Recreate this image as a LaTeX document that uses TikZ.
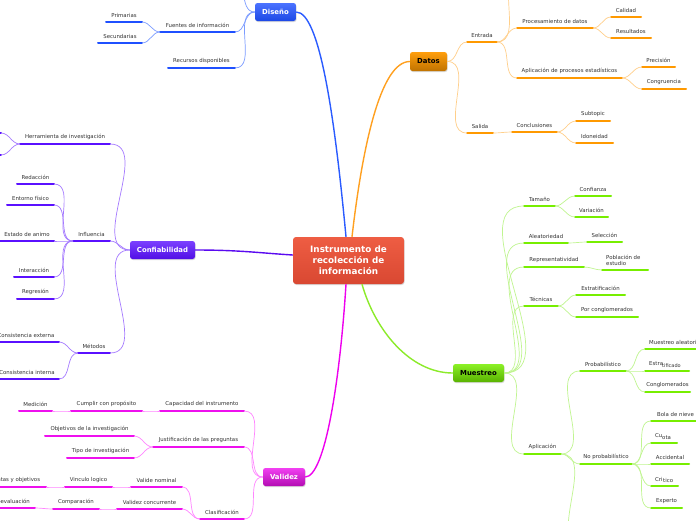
\documentclass[tikz,border=0pt]{standalone}
\usepackage{fontspec}
\setmainfont{DejaVu Sans}
\usetikzlibrary{calc,shadows}
\definecolor{txt}{HTML}{333333}
\definecolor{mainT}{HTML}{EE5D43}\definecolor{mainB}{HTML}{D94832}
\definecolor{dsn}{HTML}{1F50FF}\definecolor{dsnl}{HTML}{7C9CFF}\definecolor{dsnm}{HTML}{2A5BFF}
\definecolor{dat}{HTML}{FF9900}\definecolor{datl}{HTML}{FFCF8A}\definecolor{datm}{HTML}{FFA020}
\definecolor{cnf}{HTML}{5A10FF}\definecolor{cnfl}{HTML}{A57AFF}\definecolor{cnfm}{HTML}{5A0AF0}
\definecolor{val}{HTML}{EE10EE}\definecolor{vall}{HTML}{FF85FF}\definecolor{valm}{HTML}{EE00EE}
\definecolor{mue}{HTML}{77EE00}\definecolor{muel}{HTML}{C0F590}\definecolor{muem}{HTML}{8CEB2A}
\tikzset{
  uline/.style={draw=#1, line width=2pt, line cap=round},
  lbl/.style={font=\fontsize{5.4}{6.4}\selectfont, text=txt, inner sep=0pt},
  conn/.style={draw=#1, line width=0.7pt},
  bconn/.style={draw=#1, line width=1.4pt},
  branchbox/.style={rounded corners=2.5pt, inner sep=0pt, font=\fontsize{6.9}{8}\selectfont\bfseries,
     drop shadow={opacity=0.3, shadow xshift=0.6pt, shadow yshift=-1pt}},
}
\newcommand\mmtopic[6]{%
  \coordinate (#1-l) at (#2,#4);
  \coordinate (#1-r) at (#3,#4);
  \draw[uline=#6] (#1-l) -- (#1-r);
  \node[lbl] (#1) at ({(#2+#3)/2},{#4-7}) {#5};
}
\newcommand\lcon[3]{\draw[conn=#1] (#2) to[out=180,in=0] (#3);}
\newcommand\rcon[3]{\draw[conn=#1] (#2) to[out=0,in=180] (#3);}
\begin{document}
\begin{tikzpicture}[x=1pt,y=-1pt]
\useasboundingbox (0,0) rectangle (696,520);
\clip (0,0) rectangle (696,520);
\fill[white] (0,0) rectangle (696,520);

% ---------- main nodes
\node[rounded corners=3pt, top color=mainT, bottom color=mainB, inner sep=0pt,
  minimum width=111pt, minimum height=47pt, text=white, align=center,
  font=\fontsize{8.8}{11}\selectfont\bfseries,
  drop shadow={opacity=0.3, shadow xshift=0.6pt, shadow yshift=-1pt}] (main) at (348.5,260.5)
  {Instrumento de\\recolección de\\información};
\node[branchbox, top color=dsn!80!white, bottom color=dsn!90!black, text=white, minimum width=41pt, minimum height=18pt] (dis) at (275.5,12) {Diseño};
\node[branchbox, top color=dat!95!white, bottom color=dat!75!black, text=black, minimum width=37pt, minimum height=19pt] (dts) at (428.5,61.5) {Datos};
\node[branchbox, top color=cnf!80!white, bottom color=cnf!90!black, text=white, minimum width=65pt, minimum height=18pt] (cnfb) at (162.5,250) {Confiabilidad};
\node[branchbox, top color=val!80!white, bottom color=val!75!black, text=white, minimum width=42pt, minimum height=18pt] (vld) at (284,477) {Validez};
\node[branchbox, top color=mue!85!white, bottom color=mue!75!black, text=black, minimum width=51pt, minimum height=18pt] (mst) at (478.5,373) {Muestreo};

% ---------- main connectors
\draw[bconn=dsnm] ($(main.north)+(-2.5,0)$) .. controls (335,120) and (320,12) .. (dis.east);
\draw[bconn=datm] ($(main.north)+(3.5,0)$) .. controls (362,150) and (380,61.5) .. (dts.west);
\draw[bconn=cnfm] ($(main.west)+(0,-5.5)$) .. controls (260,253) and (240,250) .. (cnfb.east);
\draw[bconn=valm] ($(main.south)+(-2.5,0)$) .. controls (340,380) and (325,477) .. (vld.east);
\draw[bconn=muem] ($(main.south)+(13.5,0)$) .. controls (375,330) and (410,373) .. (mst.west);

% ---------- Diseño
\mmtopic{fuentes}{160}{235}{32}{Fuentes de información}{dsn}
\mmtopic{prim}{106}{142}{22}{Primarias}{dsn}
\mmtopic{secu}{98}{142}{43}{Secundarias}{dsn}
\mmtopic{recur}{168}{235}{68}{Recursos disponibles}{dsn}
\coordinate (dtop) at (232,-25);
\lcon{dsnl}{dis.west}{fuentes-r}
\lcon{dsnl}{dis.west}{recur-r}
\lcon{dsnl}{dis.west}{dtop}
\lcon{dsnl}{fuentes-l}{prim-r}
\lcon{dsnl}{fuentes-l}{secu-r}

% ---------- Datos
\mmtopic{entrada}{467}{497}{42}{Entrada}{dat}
\mmtopic{proc}{517}{593}{28}{Procesamiento de datos}{dat}
\mmtopic{cal}{611}{641}{17}{Calidad}{dat}
\mmtopic{res}{611}{651}{38}{Resultados}{dat}
\mmtopic{apl}{517}{622}{78}{Aplicación de procesos estadísticos}{dat}
\mmtopic{prec}{642}{675}{67}{Precisión}{dat}
\mmtopic{cong}{642}{686}{89}{Congruencia}{dat}
\mmtopic{salida}{467}{493}{133}{Salida}{dat}
\mmtopic{concl}{512}{557}{132}{Conclusiones}{dat}
\mmtopic{subt}{576}{610}{121}{Subtopic}{dat}
\mmtopic{idon}{576}{613}{143}{Idoneidad}{dat}
\coordinate (etop) at (521,-25);
\rcon{datl}{dts.east}{entrada-l}
\rcon{datl}{dts.east}{salida-l}
\rcon{datl}{entrada-r}{etop}
\rcon{datl}{entrada-r}{proc-l}
\rcon{datl}{entrada-r}{apl-l}
\rcon{datl}{proc-r}{cal-l}
\rcon{datl}{proc-r}{res-l}
\rcon{datl}{apl-r}{prec-l}
\rcon{datl}{apl-r}{cong-l}
\rcon{datl}{salida-r}{concl-l}
\rcon{datl}{concl-r}{subt-l}
\rcon{datl}{concl-r}{idon-l}

% ---------- Confiabilidad
\mmtopic{herr}{20}{110}{144}{Herramienta de investigación}{cnf}
\mmtopic{infl}{73}{110}{241}{Influencia}{cnf}
\mmtopic{redac}{17}{54}{184}{Redacción}{cnf}
\mmtopic{ento}{7}{54}{205}{Entorno físico}{cnf}
\mmtopic{estado}{0}{54}{241}{Estado de animo}{cnf}
\mmtopic{inter}{14}{54}{277}{Interacción}{cnf}
\mmtopic{regr}{17}{54}{299}{Regresión}{cnf}
\mmtopic{metod}{78}{110}{353}{Métodos}{cnf}
\mmtopic{cext}{-7}{59}{342}{Consistencia externa}{cnf}
\mmtopic{cint}{-5}{59}{379}{Consistencia interna}{cnf}
\coordinate (hc1-r) at (1,133);
\coordinate (hc2-r) at (1,155);
\draw[uline=cnf] (-30,133) -- (hc1-r);
\draw[uline=cnf] (-30,155) -- (hc2-r);
\lcon{cnfl}{cnfb.west}{herr-r}
\lcon{cnfl}{cnfb.west}{infl-r}
\lcon{cnfl}{cnfb.west}{metod-r}
\lcon{cnfl}{herr-l}{hc1-r}
\lcon{cnfl}{herr-l}{hc2-r}
\lcon{cnfl}{infl-l}{redac-r}
\lcon{cnfl}{infl-l}{ento-r}
\lcon{cnfl}{infl-l}{estado-r}
\lcon{cnfl}{infl-l}{inter-r}
\lcon{cnfl}{infl-l}{regr-r}
\lcon{cnfl}{metod-l}{cext-r}
\lcon{cnfl}{metod-l}{cint-r}

% ---------- Validez
\mmtopic{capac}{160}{244}{411}{Capacidad del instrumento}{val}
\mmtopic{cumpl}{71}{142}{411}{Cumplir con propósito}{val}
\mmtopic{medic}{19}{52}{411}{Medición}{val}
\mmtopic{justif}{153}{244}{447}{Justificación de las preguntas}{val}
\mmtopic{objet}{45}{134}{436}{Objetivos de la investigación}{val}
\mmtopic{tipo}{67}{134}{458}{Tipo de investigación}{val}
\mmtopic{clasif}{200}{244}{519}{Clasificación}{val}
\mmtopic{vnom}{131}{182}{487}{Valide nominal}{val}
\mmtopic{vinc}{65}{112}{487}{Vinculo logico}{val}
\mmtopic{pyo}{-24}{46}{487}{Preguntas y objetivos}{val}
\mmtopic{vconc}{117}{182}{509}{Validez concurrente}{val}
\mmtopic{compar}{53}{99}{509}{Comparación}{val}
\mmtopic{autoev}{-17}{35}{508}{Autoevaluación}{val}
\lcon{vall}{vld.west}{capac-r}
\lcon{vall}{vld.west}{justif-r}
\lcon{vall}{vld.west}{clasif-r}
\lcon{vall}{capac-l}{cumpl-r}
\lcon{vall}{cumpl-l}{medic-r}
\lcon{vall}{justif-l}{objet-r}
\lcon{vall}{justif-l}{tipo-r}
\lcon{vall}{clasif-l}{vnom-r}
\lcon{vall}{clasif-l}{vconc-r}
\lcon{vall}{vnom-l}{vinc-r}
\lcon{vall}{vinc-l}{pyo-r}
\lcon{vall}{vconc-l}{compar-r}
\lcon{vall}{compar-l}{autoev-r}

% ---------- Muestreo
\mmtopic{taman}{524}{555}{206}{Tamaño}{mue}
\mmtopic{confz}{575}{611}{196}{Confianza}{mue}
\mmtopic{varia}{575}{608}{217}{Variación}{mue}
\mmtopic{aleat}{524}{568}{243}{Aleatoriedad}{mue}
\mmtopic{selec}{587}{622}{242}{Selección}{mue}
\mmtopic{repr}{524}{584}{267}{Representatividad}{mue}
\mmtopic{pobl}{602}{648}{270}{}{mue}
\node[lbl, anchor=west, align=left, font=\fontsize{5.4}{6.2}\selectfont] (pobltxt) at (606,260) {Población de\\estudio};
\mmtopic{tecn}{524}{558}{306}{Técnicas}{mue}
\mmtopic{estrat}{576}{625}{295}{Estratificación}{mue}
\mmtopic{pcong}{576}{638}{317}{Por conglomerados}{mue}
\mmtopic{aplic}{524}{561}{454}{Aplicación}{mue}
\mmtopic{prob}{580}{626}{371}{Probabilístico}{mue}
\mmtopic{malea}{645}{740}{349}{}{mue}
\node[lbl, anchor=west] (maleatxt) at (649,342) {Muestreo aleatorio};
\mmtopic{estra}{645}{689}{371}{}{mue}
\node[lbl, anchor=west] (estra1) at (649,364) {Estra};
\node[lbl, anchor=west, font=\fontsize{5}{6}\selectfont] (estra2) at (662,365.5) {tificado};
\mmtopic{congl}{645}{690}{392}{Conglomerados}{mue}
\mmtopic{nprob}{580}{632}{464}{No probabilístico}{mue}
\mmtopic{bola}{651}{700}{421}{Bola de nieve}{mue}
\mmtopic{cuota}{651}{677}{443}{}{mue}
\node[lbl, anchor=west] (cuota1) at (655,436) {Cu};
\node[lbl, anchor=west] (cuota2) at (662,437.5) {ota};
\mmtopic{accid}{651}{689}{464}{Accidental}{mue}
\mmtopic{crit}{651}{678}{486}{}{mue}
\node[lbl, anchor=west] (crit1) at (655,479) {Cri};
\node[lbl, anchor=west] (crit2) at (663,480.5) {tico};
\mmtopic{exper}{651}{682}{508}{Experto}{mue}
\coordinate (abot) at (582,545);
\rcon{muel}{mst.east}{taman-l}
\rcon{muel}{mst.east}{aleat-l}
\rcon{muel}{mst.east}{repr-l}
\rcon{muel}{mst.east}{tecn-l}
\rcon{muel}{mst.east}{aplic-l}
\rcon{muel}{taman-r}{confz-l}
\rcon{muel}{taman-r}{varia-l}
\rcon{muel}{aleat-r}{selec-l}
\rcon{muel}{repr-r}{pobl-l}
\rcon{muel}{tecn-r}{estrat-l}
\rcon{muel}{tecn-r}{pcong-l}
\rcon{muel}{aplic-r}{prob-l}
\rcon{muel}{aplic-r}{nprob-l}
\rcon{muel}{aplic-r}{abot}
\rcon{muel}{prob-r}{malea-l}
\rcon{muel}{prob-r}{estra-l}
\rcon{muel}{prob-r}{congl-l}
\rcon{muel}{nprob-r}{bola-l}
\rcon{muel}{nprob-r}{cuota-l}
\rcon{muel}{nprob-r}{accid-l}
\rcon{muel}{nprob-r}{crit-l}
\rcon{muel}{nprob-r}{exper-l}
\end{tikzpicture}
\end{document}
